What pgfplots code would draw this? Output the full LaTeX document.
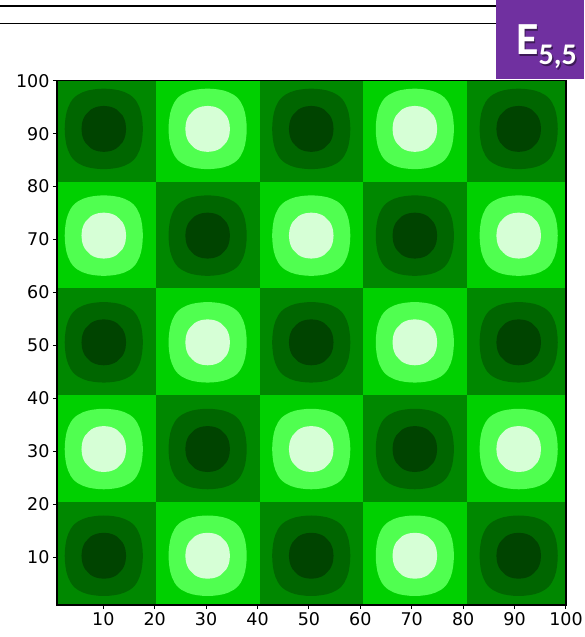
\documentclass[border=0pt]{standalone}
\usepackage{pgfplots}
\pgfplotsset{compat=1.18}
\usepackage{pgfplotstable}
\usepackage{fontspec}
\setmainfont{DejaVu Sans}
\newfontfamily\carlito{Carlito}
\definecolor{dbg}{RGB}{0,136,0}
\definecolor{dring}{RGB}{0,102,0}
\definecolor{dcore}{RGB}{0,68,0}
\definecolor{bbg}{RGB}{0,208,0}
\definecolor{bring}{RGB}{80,255,80}
\definecolor{bcore}{RGB}{214,255,214}
\definecolor{epurple}{RGB}{112,48,160}

% outer contour (level ~0.38), offsets from cell centre
\pgfplotstableread{
dx dy
0 7.6
1.01 7.56
2.02 7.45
3.03 7.27
4.04 6.95
5.05 6.45
5.56 6.08
5.83 5.83
6.08 5.56
6.45 5.05
6.95 4.04
7.27 3.03
7.45 2.02
7.56 1.01
7.6 0
7.56 -1.01
7.45 -2.02
7.27 -3.03
6.95 -4.04
6.45 -5.05
6.08 -5.56
5.83 -5.83
5.56 -6.08
5.05 -6.45
4.04 -6.95
3.03 -7.27
2.02 -7.45
1.01 -7.56
0 -7.6
-1.01 -7.56
-2.02 -7.45
-3.03 -7.27
-4.04 -6.95
-5.05 -6.45
-5.56 -6.08
-5.83 -5.83
-6.08 -5.56
-6.45 -5.05
-6.95 -4.04
-7.27 -3.03
-7.45 -2.02
-7.56 -1.01
-7.6 0
-7.56 1.01
-7.45 2.02
-7.27 3.03
-6.95 4.04
-6.45 5.05
-6.08 5.56
-5.83 5.83
-5.56 6.08
-5.05 6.45
-4.04 6.95
-3.03 7.27
-2.02 7.45
-1.01 7.56
0 7.6
}\outershape

% inner contour (level ~0.78)
\pgfplotstableread{
dx dy
0 4.34
1.01 4.24
1.52 4.11
2.02 3.92
2.53 3.64
3.1 3.1
3.64 2.53
3.92 2.02
4.11 1.52
4.24 1.01
4.34 0
4.24 -1.01
4.11 -1.52
3.92 -2.02
3.64 -2.53
3.1 -3.1
2.53 -3.64
2.02 -3.92
1.52 -4.11
1.01 -4.24
0 -4.34
-1.01 -4.24
-1.52 -4.11
-2.02 -3.92
-2.53 -3.64
-3.1 -3.1
-3.64 -2.53
-3.92 -2.02
-4.11 -1.52
-4.24 -1.01
-4.34 0
-4.24 1.01
-4.11 1.52
-3.92 2.02
-3.64 2.53
-3.1 3.1
-2.53 3.64
-2.02 3.92
-1.52 4.11
-1.01 4.24
0 4.34
}\innershape

\newcommand{\cellshape}[4]{%
  \addplot[fill=#3, draw=none] table[x expr=\thisrow{dx}+#1, y expr=\thisrow{dy}+#2]{\outershape};
  \addplot[fill=#4, draw=none] table[x expr=\thisrow{dx}+#1, y expr=\thisrow{dy}+#2]{\innershape};
}
\newcommand{\brightcell}[4]{%
  \addplot[fill=bbg, draw=none] coordinates {(#1,#3) (#2,#3) (#2,#4) (#1,#4)};
}

\begin{document}
\begin{tikzpicture}
\path[use as bounding box] (0pt,0pt) rectangle (584pt,637pt);
\draw[line width=1.2pt] (0pt,631pt) -- (496pt,631pt);
\draw[line width=1.2pt] (0pt,613.7pt) -- (496pt,613.7pt);
\fill[epurple] (496pt,558pt) rectangle (584pt,637pt);
\node[anchor=base west, inner sep=0pt, text=black, opacity=0.45, font=\carlito\bfseries\fontsize{46}{46}\selectfont] at (517.5pt,580.5pt) {E\raisebox{-10pt}{\fontsize{30}{30}\selectfont 5,5}};
\node[anchor=base west, inner sep=0pt, text=white, font=\carlito\bfseries\fontsize{46}{46}\selectfont] at (516pt,582pt) {E\raisebox{-10pt}{\fontsize{30}{30}\selectfont 5,5}};
\begin{axis}[
  at={(57pt,32pt)}, anchor=south west,
  scale only axis, width=509pt, height=524.3pt,
  xmin=1, xmax=100, ymin=1, ymax=100,
  axis on top,
  xtick={10,20,...,100}, ytick={10,20,...,100},
  tick align=outside, xtick pos=bottom, ytick pos=left,
  major tick length=4pt,
  tick style={black, line width=1pt},
  axis line style={black, line width=1.3pt},
  tick label style={font=\fontsize{17.5}{17.5}\selectfont, text=black},
  /pgf/number format/assume math mode=true,
]
% checkerboard background
\addplot[fill=dbg, draw=none] coordinates {(1,1) (100,1) (100,100) (1,100)};
\brightcell{20.3}{40.5}{1}{20.4}
\brightcell{60.6}{80.8}{1}{20.4}
\brightcell{1}{20.3}{20.4}{40.6}
\brightcell{40.5}{60.6}{20.4}{40.6}
\brightcell{80.8}{100}{20.4}{40.6}
\brightcell{20.3}{40.5}{40.6}{60.8}
\brightcell{60.6}{80.8}{40.6}{60.8}
\brightcell{1}{20.3}{60.8}{80.95}
\brightcell{40.5}{60.6}{60.8}{80.95}
\brightcell{80.8}{100}{60.8}{80.95}
\brightcell{20.3}{40.5}{80.95}{100}
\brightcell{60.6}{80.8}{80.95}{100}
% row 1
\cellshape{10.1}{10.3}{dring}{dcore}
\cellshape{30.3}{10.3}{bring}{bcore}
\cellshape{50.45}{10.3}{dring}{dcore}
\cellshape{70.6}{10.3}{bring}{bcore}
\cellshape{90.8}{10.3}{dring}{dcore}
% row 2
\cellshape{10.1}{30.45}{bring}{bcore}
\cellshape{30.3}{30.45}{dring}{dcore}
\cellshape{50.45}{30.45}{bring}{bcore}
\cellshape{70.6}{30.45}{dring}{dcore}
\cellshape{90.8}{30.45}{bring}{bcore}
% row 3
\cellshape{10.1}{50.6}{dring}{dcore}
\cellshape{30.3}{50.6}{bring}{bcore}
\cellshape{50.45}{50.6}{dring}{dcore}
\cellshape{70.6}{50.6}{bring}{bcore}
\cellshape{90.8}{50.6}{dring}{dcore}
% row 4
\cellshape{10.1}{70.75}{bring}{bcore}
\cellshape{30.3}{70.75}{dring}{dcore}
\cellshape{50.45}{70.75}{bring}{bcore}
\cellshape{70.6}{70.75}{dring}{dcore}
\cellshape{90.8}{70.75}{bring}{bcore}
% row 5
\cellshape{10.1}{90.9}{dring}{dcore}
\cellshape{30.3}{90.9}{bring}{bcore}
\cellshape{50.45}{90.9}{dring}{dcore}
\cellshape{70.6}{90.9}{bring}{bcore}
\cellshape{90.8}{90.9}{dring}{dcore}
\end{axis}
\end{tikzpicture}
\end{document}
